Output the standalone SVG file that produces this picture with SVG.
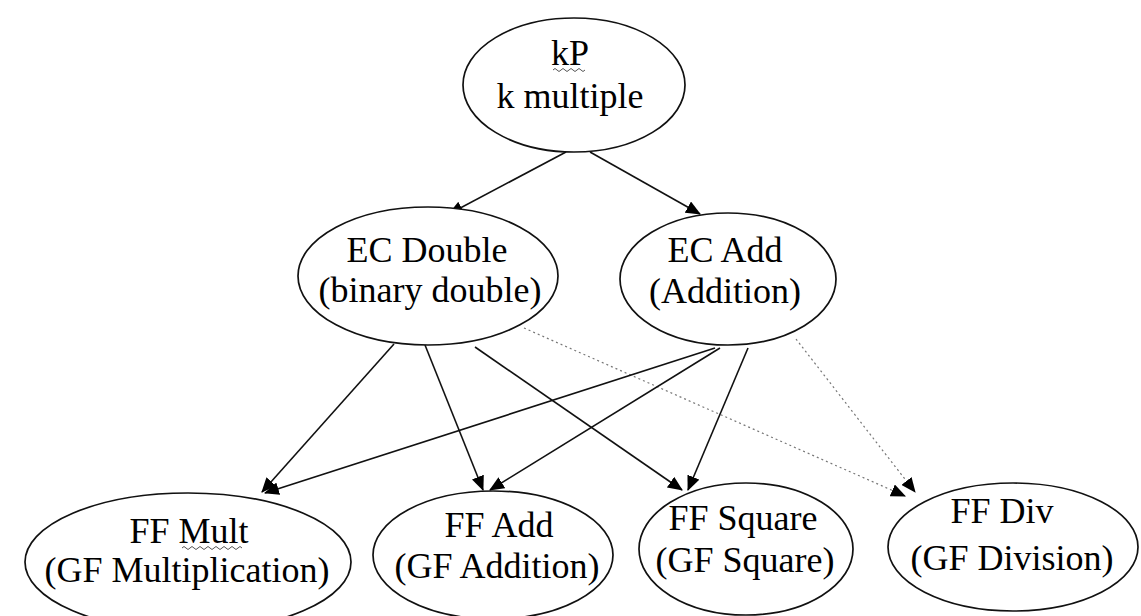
<svg xmlns="http://www.w3.org/2000/svg" width="1141" height="616" viewBox="0 0 1141 616">
<defs>
<marker id="ah" viewBox="0 0 14 12" refX="13" refY="6" markerWidth="15" markerHeight="13" markerUnits="userSpaceOnUse" orient="auto">
<path d="M0,0 L14,6 L0,12 z" fill="#000"/>
</marker>
</defs>
<style>
.node ellipse{fill:#fff;stroke:#111;stroke-width:1.7}
.node text{font-size:36px;fill:#000;text-anchor:middle}
.edge{fill:none;stroke:#111;stroke-width:1.6;marker-end:url(#ah)}
.dot{fill:none;stroke:#777;stroke-width:1.2;stroke-dasharray:2 3;marker-end:url(#ah)}
.sq{fill:none;stroke:#555;stroke-width:1}
</style>
<rect width="1141" height="616" fill="#fff"/>
<g id="connectors">
<line class="edge" x1="566" y1="152" x2="449" y2="214"/>
<line class="edge" x1="590" y1="152" x2="700" y2="214"/>
<line class="edge" x1="394" y1="344" x2="262" y2="492"/>
<line class="edge" x1="425" y1="345" x2="483" y2="490"/>
<line class="edge" x1="475" y1="347" x2="682" y2="490"/>
<line class="dot" x1="524" y1="328" x2="905" y2="496"/>
<line class="edge" x1="715" y1="348" x2="265" y2="493"/>
<line class="edge" x1="720" y1="348" x2="490" y2="490"/>
<line class="edge" x1="748" y1="348" x2="688" y2="490"/>
<line class="dot" x1="796" y1="339" x2="915" y2="492"/>
</g>
<g id="kP" class="node" font-family="Liberation Serif, Times New Roman, serif">
<ellipse cx="574" cy="85" rx="111" ry="67"/>
<text x="570" y="65">kP</text>
<text x="570" y="108">k multiple</text>
<path class="sq" d="M553,70 q2,-3 4,0 t4,0 t4,0 t4,0 t4,0 t4,0 t4,0 t4,0"/>
</g>
<g id="ecDouble" class="node" font-family="Liberation Serif, Times New Roman, serif">
<ellipse cx="428" cy="276" rx="130" ry="69"/>
<text x="427" y="262">EC Double</text>
<text x="430" y="302">(binary double)</text>
</g>
<g id="ecAdd" class="node" font-family="Liberation Serif, Times New Roman, serif">
<ellipse cx="728" cy="279" rx="108" ry="66"/>
<text x="725" y="262">EC Add</text>
<text x="725" y="303">(Addition)</text>
</g>
<g id="ffMult" class="node" font-family="Liberation Serif, Times New Roman, serif">
<ellipse cx="188" cy="562" rx="163" ry="69"/>
<text x="189" y="543">FF Mult</text>
<text x="187" y="582">(GF Multiplication)</text>
<path class="sq" d="M182,548 q2,-3 4,0 t4,0 t4,0 t4,0 t4,0 t4,0 t4,0 t4,0 t4,0 t4,0 t4,0 t4,0 t4,0 t4,0 t4,0"/>
</g>
<g id="ffAdd" class="node" font-family="Liberation Serif, Times New Roman, serif">
<ellipse cx="493" cy="555" rx="120" ry="64"/>
<text x="499" y="537">FF Add</text>
<text x="497" y="578">(GF Addition)</text>
</g>
<g id="ffSquare" class="node" font-family="Liberation Serif, Times New Roman, serif">
<ellipse cx="746" cy="549" rx="107" ry="66"/>
<text x="743" y="530">FF Square</text>
<text x="745" y="572">(GF Square)</text>
</g>
<g id="ffDiv" class="node" font-family="Liberation Serif, Times New Roman, serif">
<ellipse cx="1013" cy="547" rx="125" ry="64"/>
<text x="1002" y="523">FF Div</text>
<text x="1012" y="570">(GF Division)</text>
</g>
</svg>
